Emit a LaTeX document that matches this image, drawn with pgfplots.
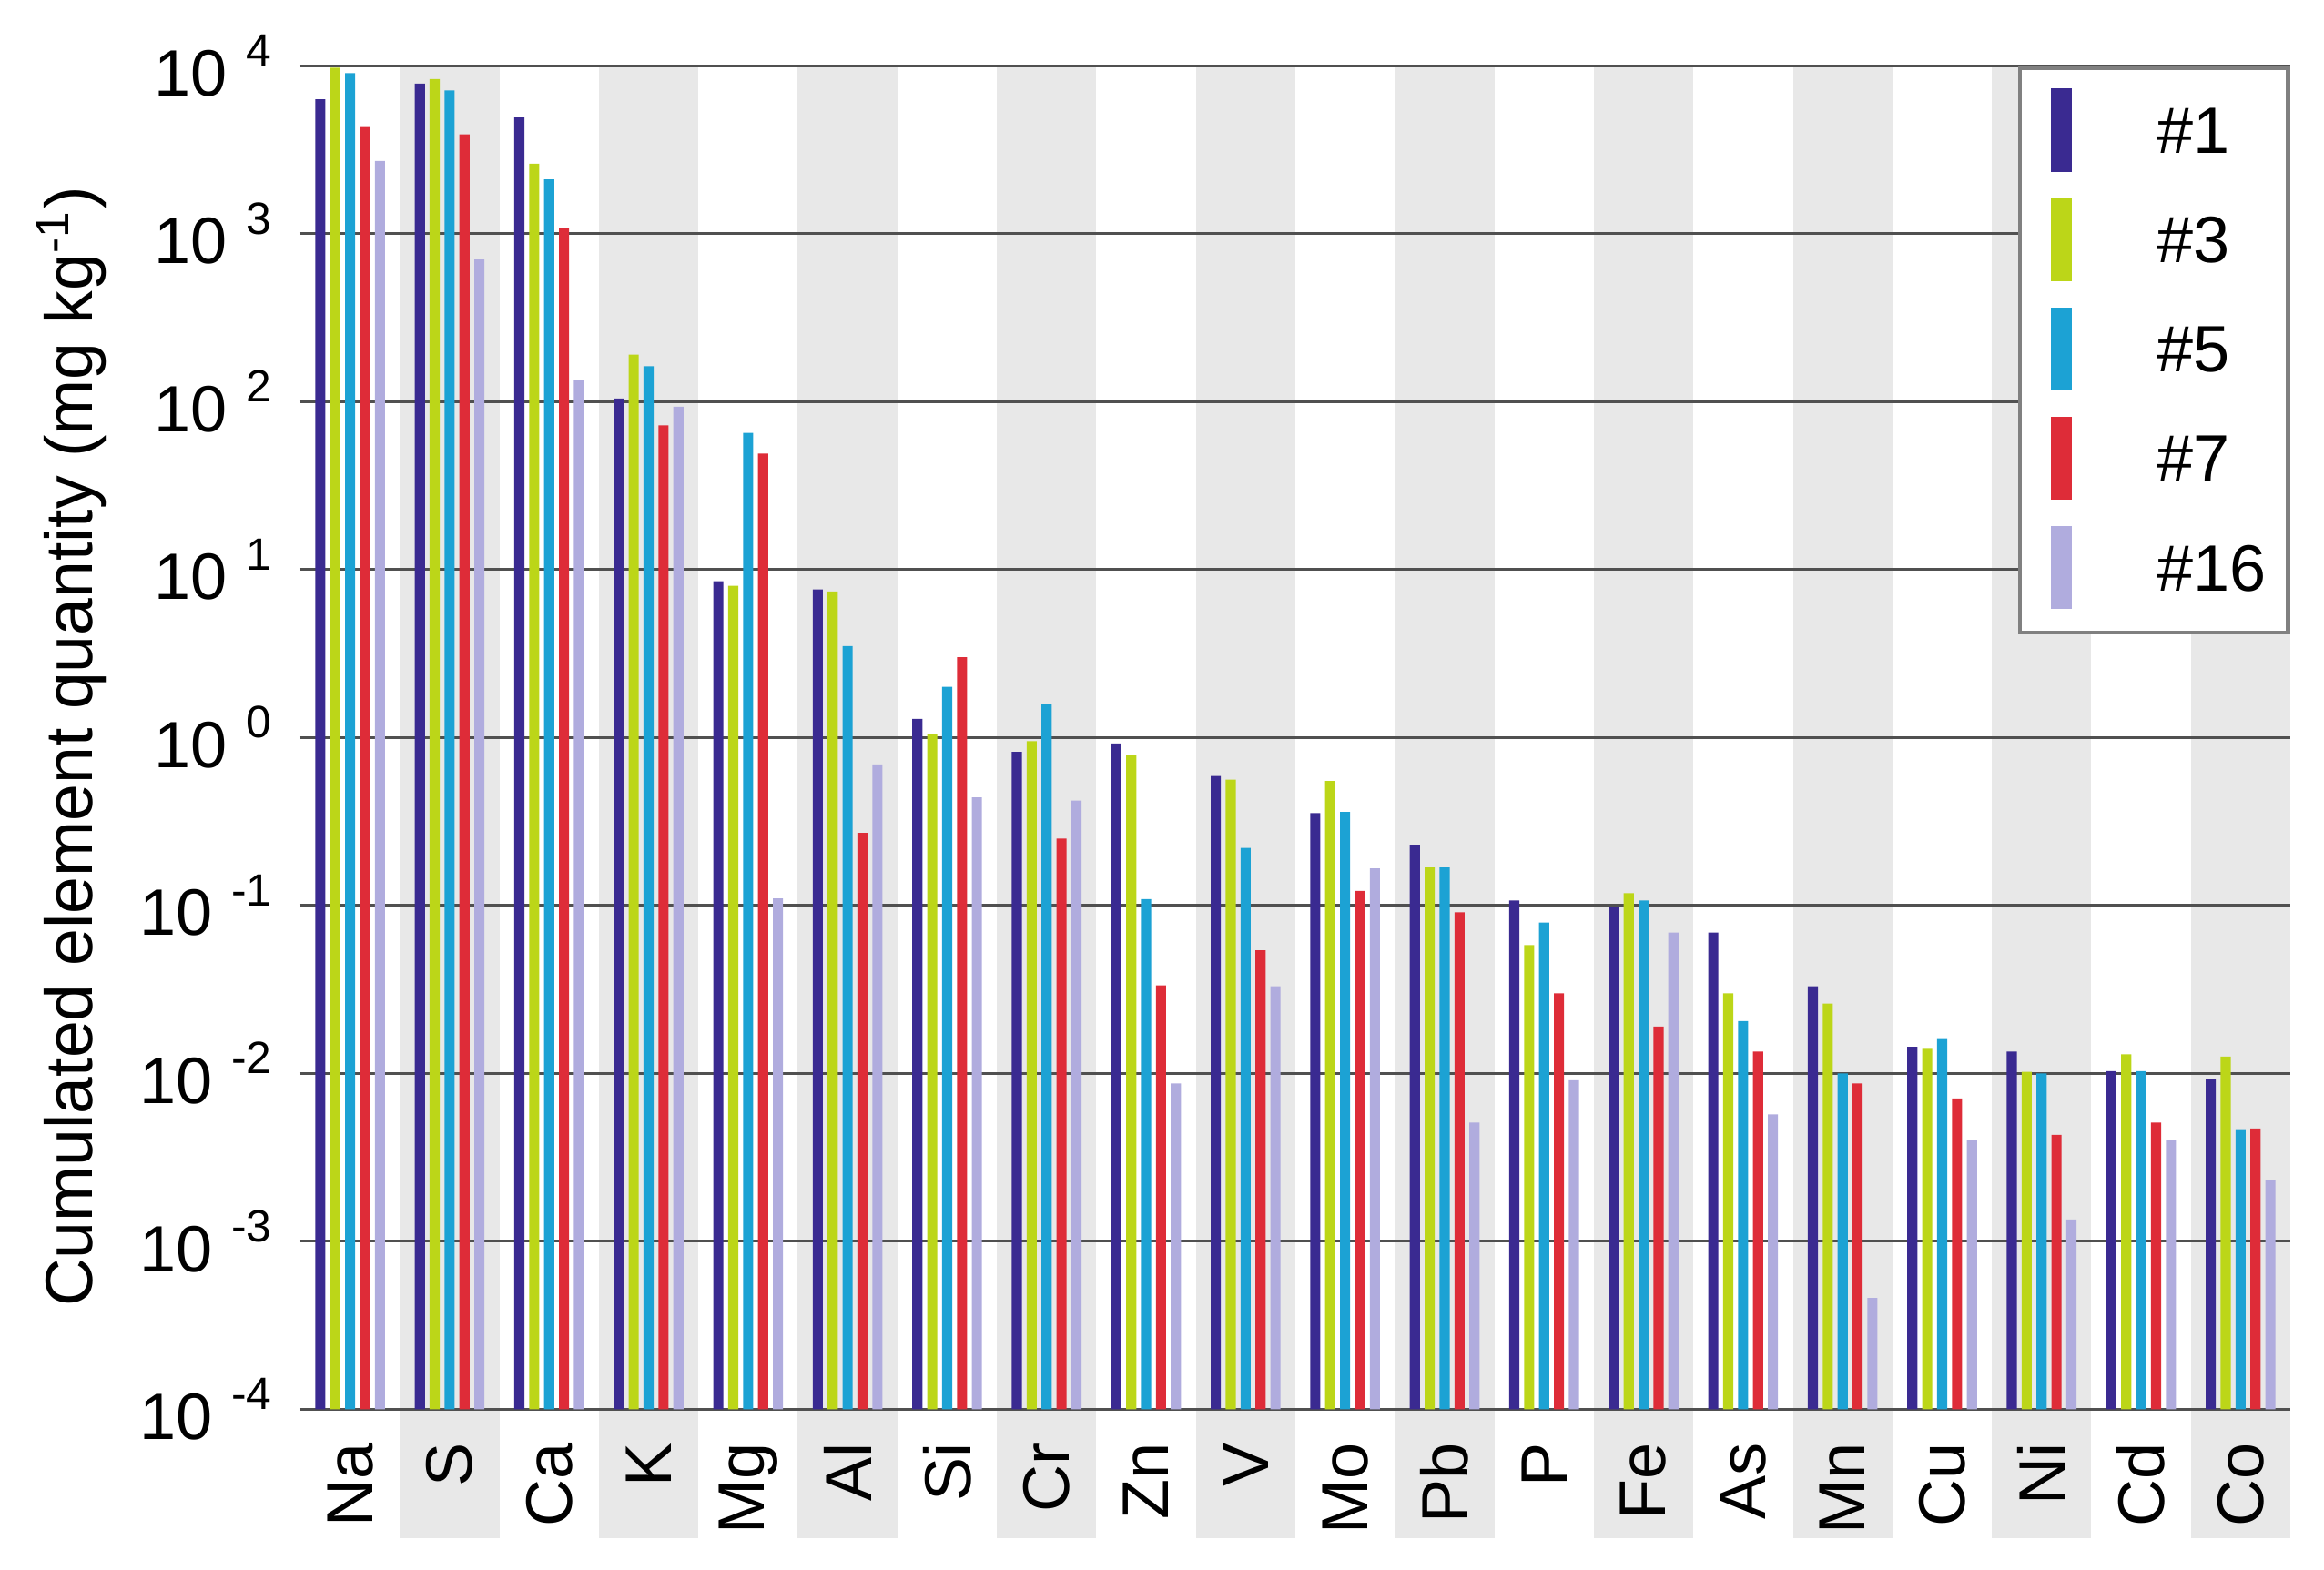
\documentclass[border=0pt]{standalone}
\usepackage{fontspec}
\setmainfont{Liberation Sans}
\usepackage{pgfplots}
\usepackage{pgfplotstable}
\pgfplotsset{compat=1.18}

\definecolor{cA}{RGB}{58,42,145}
\definecolor{cB}{RGB}{188,214,24}
\definecolor{cC}{RGB}{28,162,212}
\definecolor{cD}{RGB}{222,44,56}
\definecolor{cE}{RGB}{176,172,222}
\definecolor{band}{RGB}{232,232,232}
\definecolor{gridc}{RGB}{80,80,80}

% "10  4" style tick labels as in the original figure
\newcommand{\tp}[1]{10\hspace{3.2pt}\raisebox{5pt}{\fontsize{7.6}{8}\selectfont #1}}

\pgfplotsset{barleg/.style={legend image code/.code={\path (0pt,0pt); \fill[##1] (3.5pt,-6.2pt) rectangle (7pt,7.8pt);}}}

% element, then samples #1 #3 #5 #7 #16
\pgfplotstableread{
i  a       b       c       d       e
0  6300    9700    9000    4350    2700
1  7800    8300    7100    3900    700
2  4900    2600    2100    1070    134
3  104     190     162     72      93
4  8.5     8.0     65      49      0.11
5  7.6     7.4     3.5     0.27    0.69
6  1.29    1.05    2.0     3.0     0.44
7  0.82    0.95    1.57    0.25    0.42
8  0.92    0.78    0.109   0.0334  0.0087
9  0.59    0.56    0.22    0.054   0.033
10 0.354   0.55    0.36    0.122   0.166
11 0.23    0.168   0.168   0.091   0.0051
12 0.107   0.058   0.079   0.030   0.0091
13 0.098   0.118   0.107   0.019   0.069
14 0.069   0.030   0.0205  0.0135  0.0057
15 0.033   0.026   0.010   0.0087  0.00046
16 0.0144  0.014   0.016   0.0071  0.0040
17 0.0135  0.0102  0.010   0.0043  0.00135
18 0.0103  0.013   0.0103  0.0051  0.0040
19 0.0093  0.0126  0.0046  0.0047  0.0023
}\data

\begin{document}
\begin{tikzpicture}
\begin{axis}[
  set layers,
  scale only axis, width=333.9pt, height=225.5pt,
  ymode=log, ymin=1e-4, ymax=1e4, log origin=infty,
  xmin=-0.5, xmax=19.5,
  ybar=0.8pt, bar width=1.7pt,
  xtick={0,...,19},
  xticklabels={Na,S,Ca,K,Mg,Al,Si,Cr,Zn,V,Mo,Pb,P,Fe,As,Mn,Cu,Ni,Cd,Co},
  ytick={1e-4,1e-3,1e-2,1e-1,1,10,100,1000,10000},
  yticklabels={\tp{-4},\tp{-3},\tp{-2},\tp{-1},\tp{0},\tp{1},\tp{2},\tp{3},\tp{4}},
  yminorticks=false,
  major tick length=0pt,
  ymajorgrids, grid style={gridc, line width=0.45pt},
  axis line style={draw=none},
  clip=false,
  tick label style={font=\fontsize{11}{13}\selectfont},
  xticklabel style={rotate=90, anchor=east, inner xsep=5.4pt},
  yticklabel style={anchor=east, inner xsep=4.6pt},
  ylabel={Cumulated element quantity (mg kg\textsuperscript{-1})},
  ylabel style={font=\fontsize{11.2}{13}\selectfont, at={(axis description cs:-0.115,0.493)}, anchor=center},
  legend style={at={(1,1)}, anchor=north east, draw=gray, line width=0.7pt,
    inner xsep=1.7pt, inner ysep=3.5pt, row sep=4pt, column sep=12.3pt,
    font=\fontsize{11}{13}\selectfont},
  legend cell align=left,
]
\begin{pgfonlayer}{axis background}
\pgfplotsinvokeforeach{0.5,2.5,...,18.5}{
  \fill[band] ([yshift=-21.7pt]axis cs:#1,1e-4) rectangle ([xshift=16.695pt]axis cs:#1,1e4);
}
\end{pgfonlayer}
\addplot[fill=cA, draw=none, barleg] table[x=i, y=a]{\data};
\addlegendentry{\#1}
\addplot[fill=cB, draw=none, barleg] table[x=i, y=b]{\data};
\addlegendentry{\#3}
\addplot[fill=cC, draw=none, barleg] table[x=i, y=c]{\data};
\addlegendentry{\#5}
\addplot[fill=cD, draw=none, barleg] table[x=i, y=d]{\data};
\addlegendentry{\#7}
\addplot[fill=cE, draw=none, barleg] table[x=i, y=e]{\data};
\addlegendentry{\#16}
\end{axis}
\pgfresetboundingbox
\useasboundingbox ([shift={(-50.4pt,-26.9pt)}]current axis.south west) rectangle ([shift={(5.65pt,11pt)}]current axis.north east);
\end{tikzpicture}
\end{document}
